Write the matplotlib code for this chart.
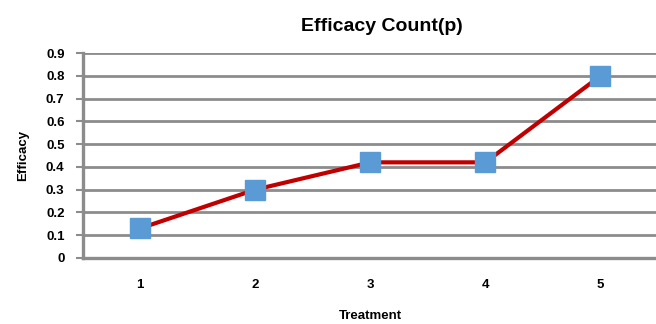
"""Efficacy count line chart (Excel-style)."""

import matplotlib
matplotlib.use("Agg")
import matplotlib.pyplot as plt

TREATMENTS = ["1", "2", "3", "4", "5"]
EFFICACY = [0.13, 0.30, 0.42, 0.42, 0.80]
YTICKS = [0, 0.1, 0.2, 0.3, 0.4, 0.5, 0.6, 0.7, 0.8, 0.9]
YTICK_LABELS = ["0", "0.1", "0.2", "0.3", "0.4", "0.5", "0.6", "0.7", "0.8", "0.9"]

GRID = "#8c8c8c"

plt.rcParams["font.family"] = ["Liberation Sans", "DejaVu Sans"]
fig = plt.figure(figsize=(6.56, 3.24), dpi=100)
ax = fig.add_axes([0.126, 0.204, 0.877, 0.632])

x = list(range(len(TREATMENTS)))
ax.plot(x, EFFICACY, "-", color="#c00000", lw=3, zorder=3)
ax.plot(x, EFFICACY, "s", color="#5b9bd5", ms=14.5, mec="#5b9bd5", zorder=4)

ax.set_xlim(-0.5, len(TREATMENTS) - 0.5)
ax.set_ylim(0, 0.9)
ax.set_xticks(x)
ax.set_xticklabels(TREATMENTS, fontsize=9.5, fontweight="bold")
ax.set_yticks(YTICKS)
ax.set_yticklabels(YTICK_LABELS, fontsize=9.5, fontweight="bold")
ax.tick_params(axis="y", length=5, width=1.5, color=GRID, pad=8)
ax.tick_params(axis="x", length=0, pad=15)
ax.grid(axis="y", color=GRID, lw=2)
ax.set_axisbelow(True)
for s in ("top", "right"):
    ax.spines[s].set_visible(False)
for s in ("left", "bottom"):
    ax.spines[s].set_color(GRID)
    ax.spines[s].set_linewidth(2.4)

ax.set_title("Efficacy Count(p)", fontsize=14, fontweight="bold", pad=16, x=0.52)
ax.set_xlabel("Treatment", fontsize=9.5, fontweight="bold", labelpad=14)
ax.set_ylabel("Efficacy", fontsize=9.5, fontweight="bold", labelpad=12)

fig.savefig("out.png", dpi=100)
